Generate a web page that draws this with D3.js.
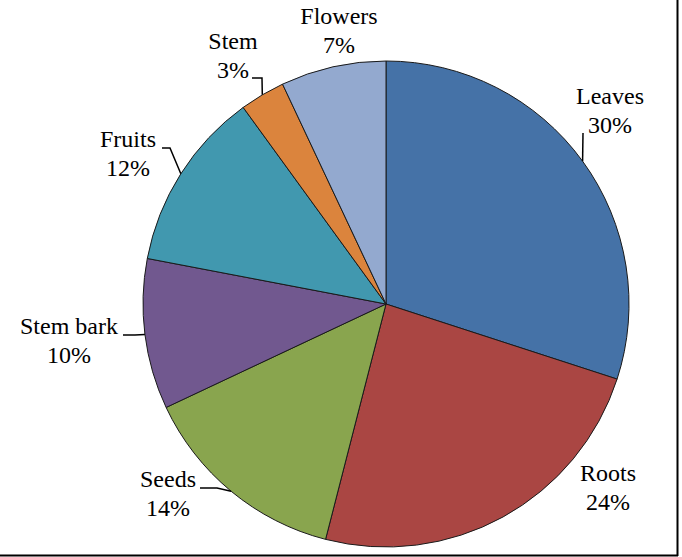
<!DOCTYPE html>
<html>
<head>
<meta charset="utf-8">
<script src="https://cdn.jsdelivr.net/npm/d3@7"></script>
<style>
  body { margin: 0; background: #fff; }
  svg { display: block; }
  .lbl { font-family: "Liberation Serif"; }
</style>
</head>
<body>
<svg id="canvas"></svg>
<script>
// chart data
const parts = ["Leaves", "Roots", "Seeds", "Stem bark", "Fruits", "Stem", "Flowers"];
const shares = [30, 24, 14, 10, 12, 3, 7];
const colours = ["#4572A7", "#AA4643", "#89A54E", "#71588F", "#4198AF", "#DB843D", "#93A9CF"];

let width = 682;
let height = 557;
let cx = 386;
let cy = 304;
let radius = 243;

// label placement: centre x, baseline of first line, leader start + elbow
const labelPos = {
    "Leaves":    { x: 610, y: 104, lead: [[583, 133], [583, 133]] },
    "Roots":     { x: 608, y: 481, lead: null },
    "Seeds":     { x: 168, y: 487, lead: [[200, 488], [217, 488]] },
    "Stem bark": { x: 69,  y: 334, lead: [[123, 335], [135, 335]] },
    "Fruits":    { x: 128, y: 147, lead: [[162, 148], [170, 148]] },
    "Stem":      { x: 233, y: 49,  lead: [[252, 78], [262, 78]] },
    "Flowers":   { x: 339, y: 24,  lead: null }
};

let canvas = d3.select('#canvas')
    .attr('width', width)
    .attr('height', height);

// frame on right and bottom
canvas.append('line')
    .attr('x1', 677.5).attr('y1', 0).attr('x2', 677.5).attr('y2', 556)
    .attr('stroke', '#000').attr('stroke-width', 2);
canvas.append('line')
    .attr('x1', 0).attr('y1', 555.5).attr('x2', 678).attr('y2', 555.5)
    .attr('stroke', '#000').attr('stroke-width', 2);

let pie = d3.pie().sort(null).value(d => d.value);
let arc = d3.arc().innerRadius(0).outerRadius(radius);

let rows = parts.map((p, i) => ({ name: p, value: shares[i], colour: colours[i] }));
let slices = pie(rows);

let g = canvas.append('g')
    .attr('transform', 'translate(' + cx + ',' + cy + ')');

g.selectAll('path')
    .data(slices)
    .enter()
    .append('path')
    .attr('d', arc)
    .attr('fill', d => d.data.colour)
    .attr('stroke', '#1a1a1a')
    .attr('stroke-width', 1);

// leader lines end on the arc at the slice's middle angle
let edgePoint = (d) => {
    let a = (d.startAngle + d.endAngle) / 2;
    return [cx + radius * Math.sin(a), cy - radius * Math.cos(a)];
};

let line = d3.line();
slices.forEach(d => {
    let pos = labelPos[d.data.name];
    if (pos.lead) {
        let pts = pos.lead.concat([edgePoint(d)]);
        canvas.append('path')
            .attr('d', line(pts))
            .attr('fill', 'none')
            .attr('stroke', '#000')
            .attr('stroke-width', 1.5);
    }
    let t = canvas.append('text')
        .attr('class', 'lbl')
        .attr('text-anchor', 'middle')
        .style('font-size', '24px')
        .attr('fill', '#000');
    t.append('tspan')
        .attr('x', pos.x).attr('y', pos.y)
        .text(d.data.name);
    t.append('tspan')
        .attr('x', pos.x).attr('y', pos.y + 28.5)
        .text(d.data.value + '%');
});
</script>
</body>
</html>
